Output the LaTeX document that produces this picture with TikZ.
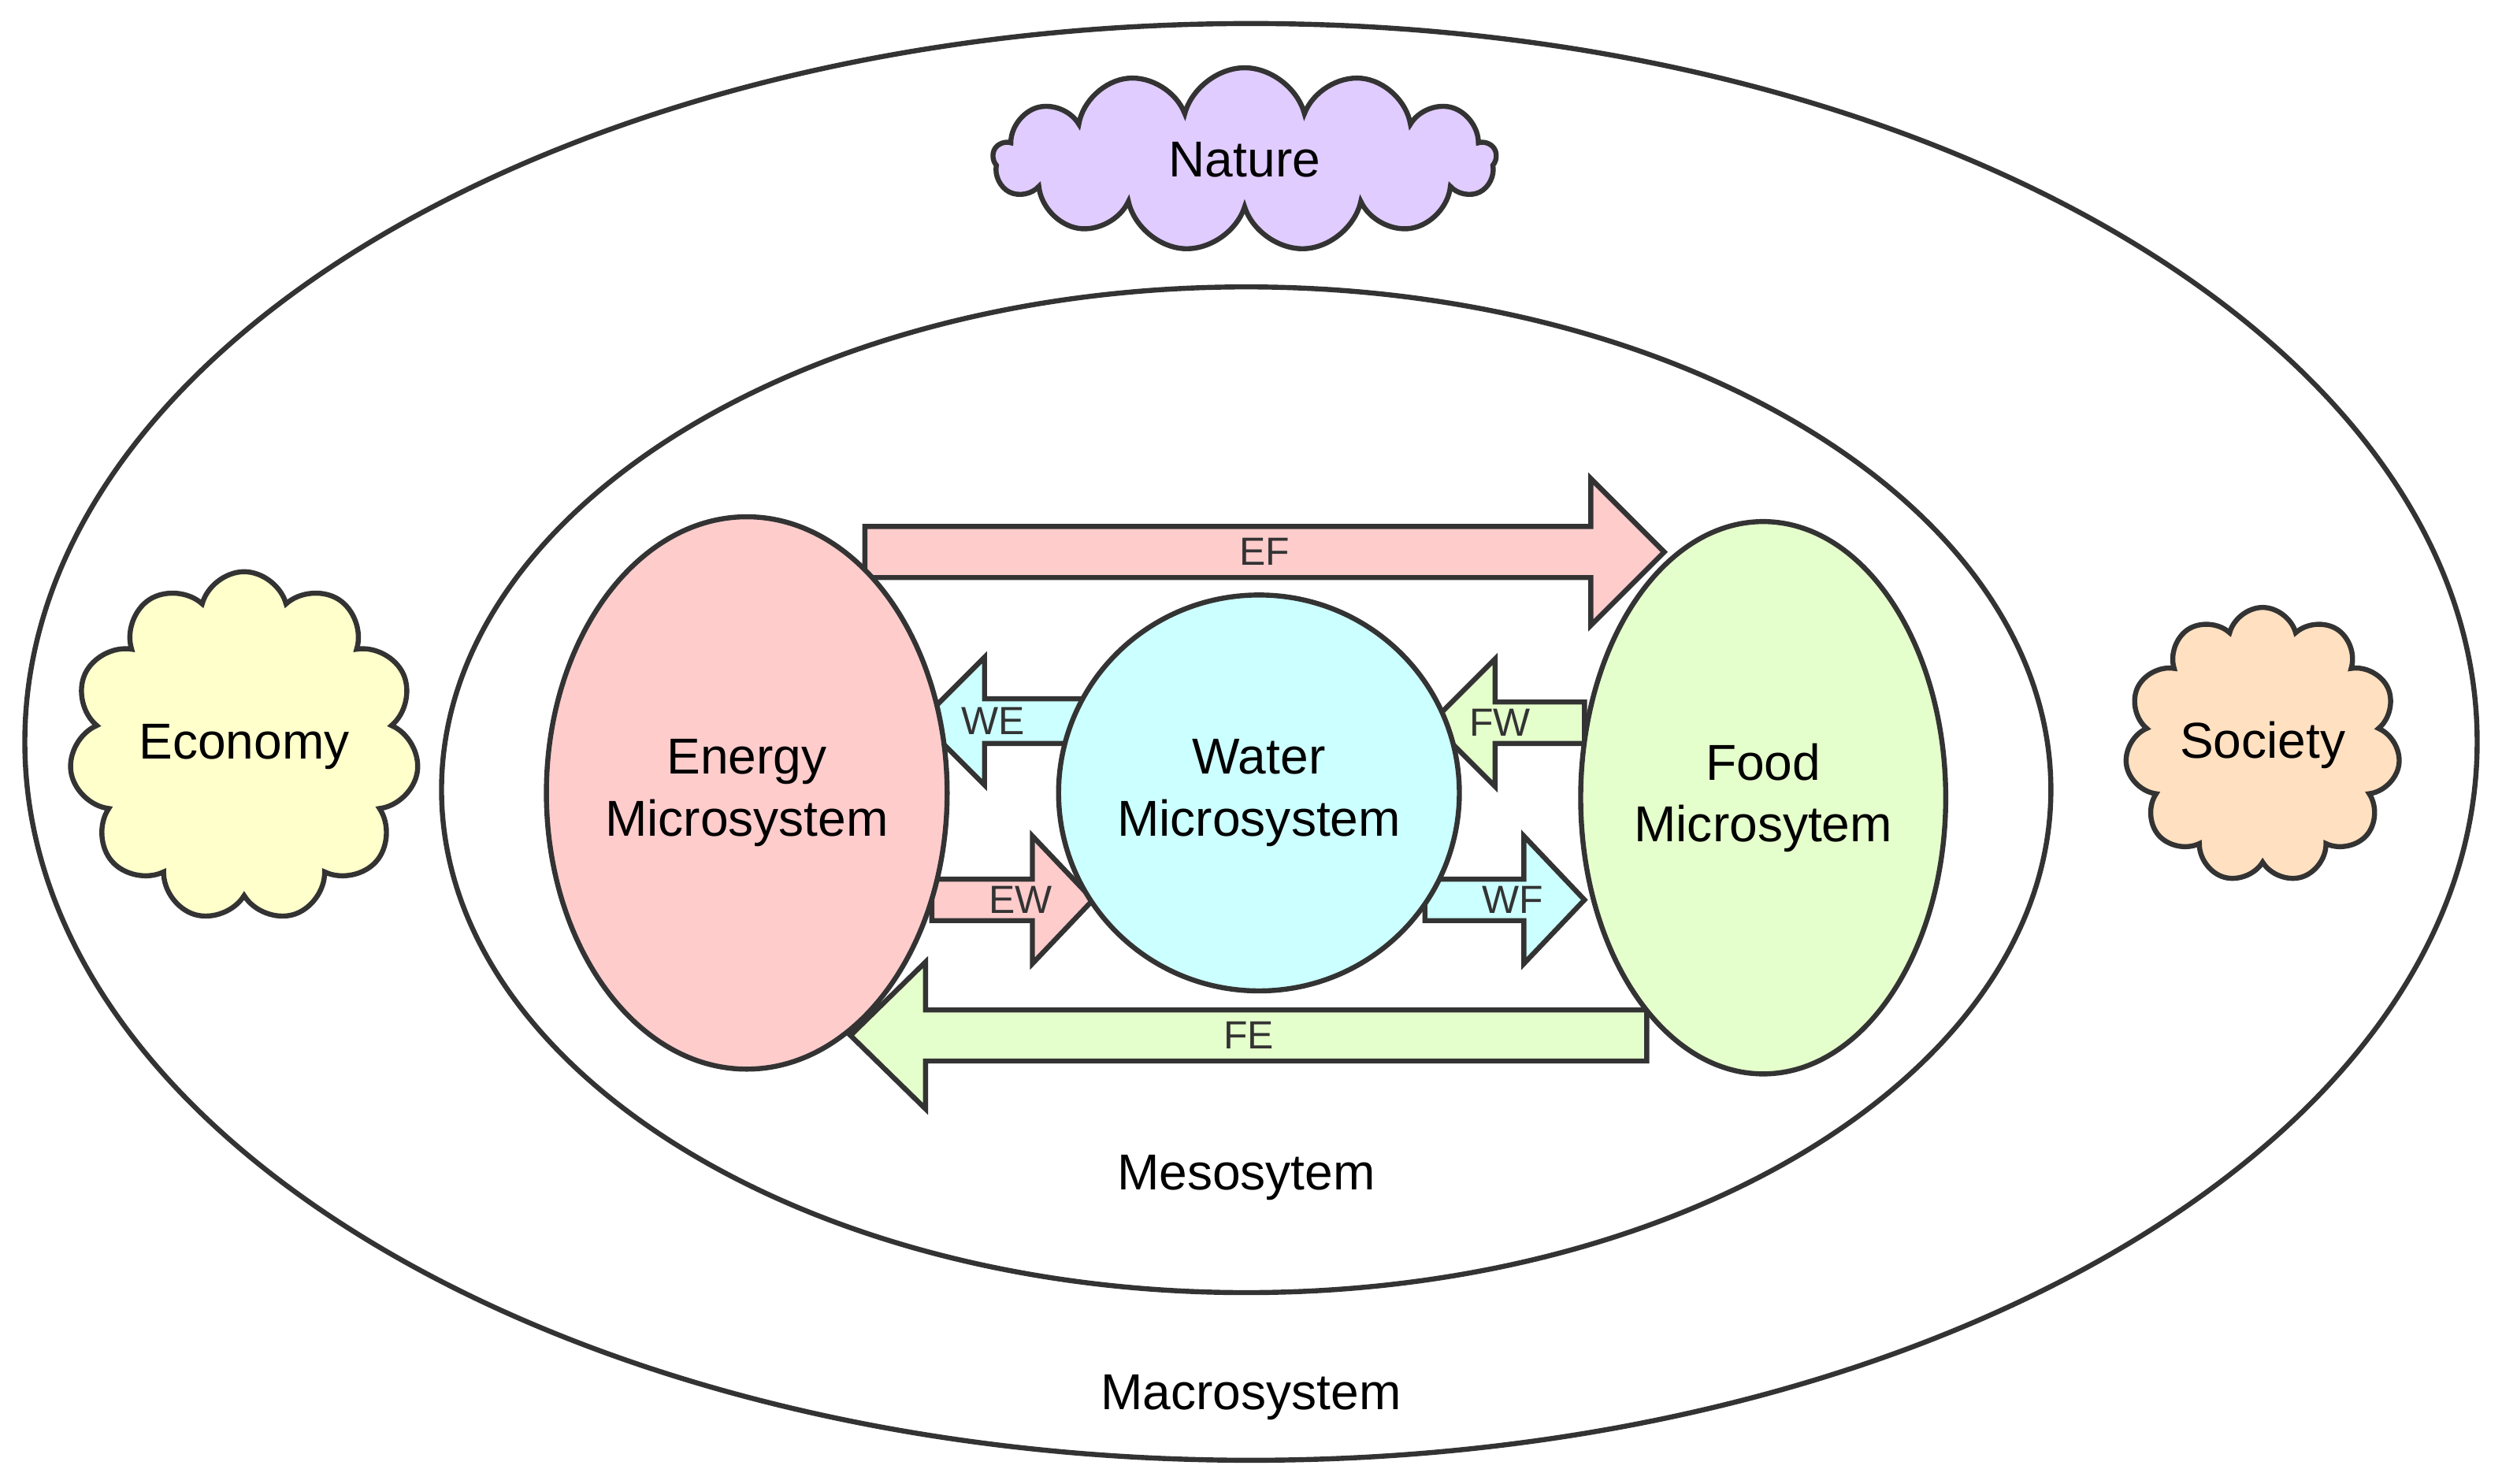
\documentclass[tikz,border=0pt]{standalone}
\usepackage{fontspec}
\setmainfont{Liberation Sans}
\usetikzlibrary{calc,positioning,shapes.geometric,shapes.symbols}
\definecolor{my_line}{RGB}{51,51,51}
\definecolor{my_pink}{RGB}{255,204,204}
\definecolor{my_cyan}{RGB}{204,255,255}
\definecolor{my_green}{RGB}{229,255,204}
\definecolor{my_purple}{RGB}{224,204,255}
\definecolor{my_yellow}{RGB}{255,255,204}
\definecolor{my_peach}{RGB}{255,224,192}
\tikzset{
  sysnode/.style = {ellipse, draw=my_line, line width=0.9pt, inner sep=0pt, align=center,
  font=\fontsize{9}{11}\selectfont},
  cloudnode/.style = {cloud, draw=my_line, line width=0.9pt, inner sep=0pt, cloud puffs=11,
  font=\fontsize{9}{11}\selectfont},
  flowlabel/.style = {font=\fontsize{7}{8}\selectfont, text=my_line}
}
% block arrow: start x, end x, mid y, half body, half head, head length, fill, name
\newcommand{\fatarrow}[8]{%
  \pgfmathsetmacro{\adir}{(#2-#1)/abs(#2-#1)}
  \draw[my_line, line width=0.9pt, fill=#7, line join=miter]
    (#1,#3-#4) -- (#2-\adir*#6,#3-#4) -- (#2-\adir*#6,#3-#5) -- (#2,#3)
    -- (#2-\adir*#6,#3+#5) -- (#2-\adir*#6,#3+#4) -- (#1,#3+#4) -- cycle;
  \coordinate (#8) at ({(#1+#2)/2},#3);
}
\begin{document}
\begin{tikzpicture}[x=0.01cm,y=-0.01cm]
  \useasboundingbox (0,0) rectangle (1568,930);
  % outer and inner systems
  \node[sysnode, minimum width=15.36cm, minimum height=9cm] (macro) at (784,465) {};
  \node[sysnode, minimum width=10.08cm, minimum height=6.3cm] (meso) at (781,495) {};
  \node[font=\fontsize{9}{11}\selectfont] (macrolabel) at (784,876) {Macrosystem};
  \node[font=\fontsize{9}{11}\selectfont] (mesolabel) at (781,738) {Mesosytem};
  % surroundings
  \node[cloudnode, fill=my_purple, cloud puffs=13, minimum width=3.15cm, minimum height=1.15cm, aspect=2.8]
    (nature) at (780,100) {Nature};
  \node[cloudnode, fill=my_yellow, minimum width=1.7cm, minimum height=1.65cm, aspect=1]
    (economy) at (153,468) {Economy};
  \node[cloudnode, fill=my_peach, minimum width=1.7cm, minimum height=1.65cm, aspect=1]
    (society) at (1418,467) {Society};
  % flows
  \fatarrow{542}{1043}{346}{16}{46}{46}{my_pink}{ef}
  \fatarrow{1032}{533}{649}{16}{46}{47}{my_green}{fe}
  \fatarrow{678}{577}{452}{14}{40}{40}{my_cyan}{we}
  \fatarrow{993}{897}{453}{13}{40}{40}{my_green}{fw}
  \fatarrow{584}{685}{564}{13}{40}{38}{my_pink}{ew}
  \fatarrow{893}{993}{564}{13}{40}{38}{my_cyan}{wf}
  \node[flowlabel] at (ef) {EF};
  \node[flowlabel] at (fe) {FE};
  \node[flowlabel] at ([xshift=-0.05cm]we) {WE};
  \node[flowlabel] at ([xshift=-0.05cm]fw) {FW};
  \node[flowlabel] at ([xshift=0.05cm]ew) {EW};
  \node[flowlabel] at ([xshift=0.05cm]wf) {WF};
  % microsystems
  \node[sysnode, fill=my_pink, minimum width=2.2cm, minimum height=3.46cm] (energy) at (468,497)
    {Energy\\Microsystem};
  \node[sysnode, fill=my_cyan, minimum width=2.24cm, minimum height=2.48cm] (water) at (789,497)
    {Water\\Microsystem};
  \node[sysnode, fill=my_green, minimum width=2.24cm, minimum height=3.46cm] (food) at (1105,500)
    {Food\\Microsytem};
\end{tikzpicture}
\end{document}
